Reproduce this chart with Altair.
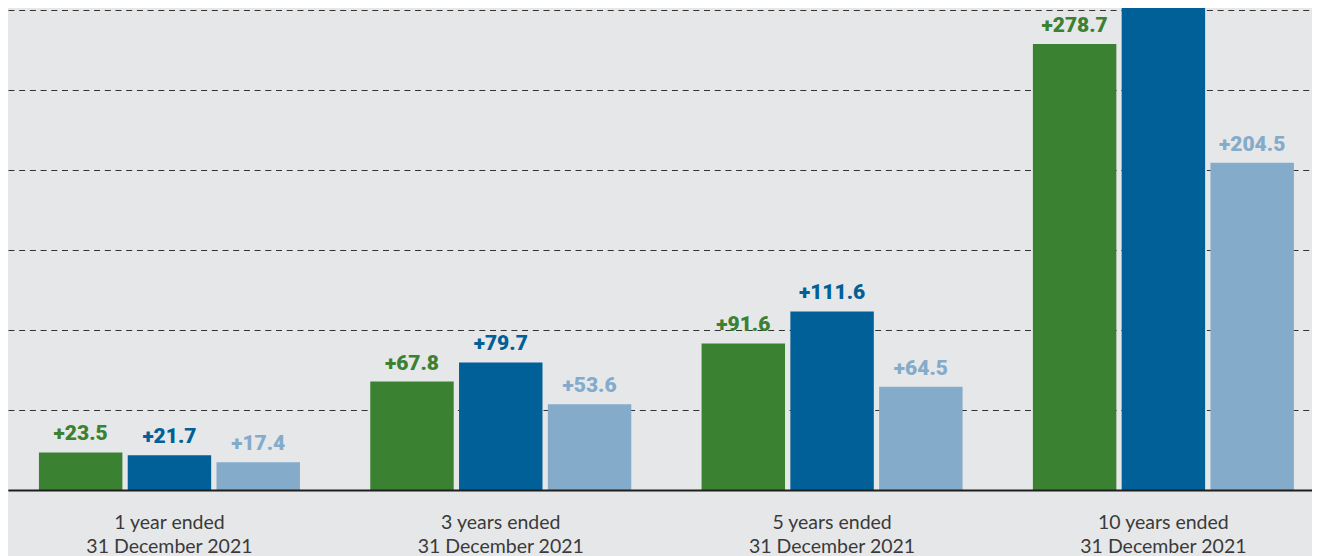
import altair as alt
import pandas as pd

periods = [
    "1 year ended\n31 December 2021",
    "3 years ended\n31 December 2021",
    "5 years ended\n31 December 2021",
    "10 years ended\n31 December 2021",
]
series_names = ["Share price total return", "NAV total return", "Benchmark"]
share_price = [23.5, 67.8, 91.6, 278.7]
nav = [21.7, 79.7, 111.6, 330.0]  # 10-year bar runs off the top; value estimated
benchmark = [17.4, 53.6, 64.5, 204.5]
colors = ["#3b8132", "#006097", "#85abcb"]
grid_values = [0, 50, 100, 150, 200, 250, 300]

rows = []
for i, p in enumerate(periods):
    for s, vals in zip(series_names, [share_price, nav, benchmark]):
        rows.append({"period": p, "series": s, "value": vals[i]})
df = pd.DataFrame(rows)

Y_MAX = 301.25

x = alt.X(
    "period:N",
    sort=periods,
    scale=alt.Scale(paddingInner=0.2122, paddingOuter=0.074, align=0.631, round=False),
    axis=alt.Axis(
        title=None,
        labelAngle=0,
        labelExpr="split(datum.label, '\\n')",
        labelFont="Lato",
        labelFontSize=19.5,
        labelColor="#3a3a3a",
        labelLineHeight=24,
        labelPadding=23,
        ticks=False,
        domain=True,
        domainColor="#1e1e1e",
        domainWidth=2,
        grid=False,
        zindex=1,
    ),
)
xoff = alt.XOffset(
    "series:N", sort=series_names,
    scale=alt.Scale(paddingInner=0.06, paddingOuter=0, round=False),
)
y = alt.Y(
    "value:Q",
    scale=alt.Scale(domain=[0, Y_MAX], nice=False, zero=True),
    axis=alt.Axis(
        values=grid_values,
        labels=False,
        ticks=False,
        domain=False,
        title=None,
        grid=True,
        gridDash=[6, 4.7],
        gridColor="#333333",
        gridWidth=1.2,
    ),
)
color = alt.Color(
    "series:N", scale=alt.Scale(domain=series_names, range=colors), legend=None
)

base = alt.Chart(df)
bars = base.mark_bar(clip=True).encode(x=x, xOffset=xoff, y=y, color=color)
labels = (
    base.transform_filter(f"datum.value <= {Y_MAX}")
    .transform_calculate(label="'+' + format(datum.value, '.1f')")
    .mark_text(baseline="bottom", dy=-8, font="Roboto", fontWeight=900, fontSize=21)
    .encode(x=x, xOffset=xoff, y=y, color=color, text="label:N")
)

chart = (
    alt.layer(bars, labels)
    .properties(
        width=1304,
        height=482,
        autosize=alt.AutoSizeParams(type="none"),
        padding={"left": 0, "top": 0, "right": 0, "bottom": 66},
        background="#e6e7e9",
    )
    .configure_view(stroke=None)
)

chart.save("out.html", embed_options={"renderer": "svg", "actions": False})
